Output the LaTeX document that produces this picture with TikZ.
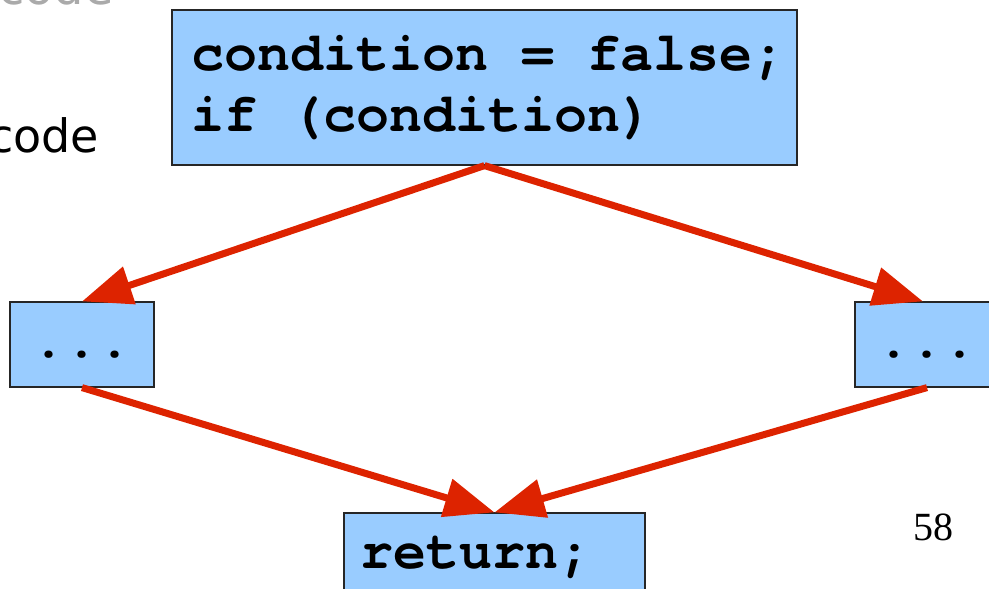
\documentclass[tikz,border=0pt]{standalone}
\usepackage{fontspec}
\newfontfamily\codefont{TeX Gyre Cursor}
\newfontfamily\slidefont{DejaVu Sans}
\newfontfamily\pagefont{Liberation Serif}
\usetikzlibrary{positioning,arrows.meta}
\definecolor{boxblue}{RGB}{153,204,255}
\definecolor{flowred}{RGB}{221,35,0}
\definecolor{titlegray}{RGB}{170,170,170}
% one fixed-pitch blank in the code text
\newcommand\gap{\hspace*{0.6em}}
\tikzstyle{block} = [draw=black!85, line width=1.2pt, rectangle, fill=boxblue,
  font=\codefont\bfseries\fontsize{55}{61}\selectfont]
\tikzstyle{small} = [block, minimum width=144pt, text height=38pt, text depth=12pt, inner ysep=17.5pt]
\tikzstyle{flow} = [draw=flowred, line width=7pt, -{Triangle[length=50pt,width=38pt]}]

\begin{document}
\begin{tikzpicture}[x=1pt,y=-1pt,node distance=257pt]
	\useasboundingbox (0,0) rectangle (989,589);
	\clip (0,0) rectangle (989,589);

	% slide text around the diagram
	\node [anchor=base west, inner sep=0, text=titlegray,
	  font=\slidefont\fontsize{48}{56}\selectfont] (title) at (-2,5) {code};
	\node [anchor=base west, inner sep=0,
	  font=\slidefont\fontsize{46}{54}\selectfont] (bullet) at (-12,152) {code};
	\node [anchor=base, inner sep=0,
	  font=\pagefont\fontsize{40}{48}\selectfont] (page) at (933,540) {58};

	% put the blocks where we want them
	\node [block, text width=600pt, align=left, inner xsep=12.5pt, minimum height=155pt]
	  (cond) at (484.5,87.5)
	  {\hspace*{7pt}condition\gap=\gap false;\\\hspace*{7pt}if\gap(condition)};
	\node [small, below of=cond, xshift=-402.5pt] (left) {...};
	\node [small, below of=cond, xshift=442.5pt] (right) {...};
	\node [small, text width=269pt, align=left, inner xsep=16pt, below of=cond,
	  node distance=468pt, xshift=10pt] (ret) {return;};

	% draw the branches
	\draw [flow] (cond.south) -- (left.north);
	\draw [flow] (cond.south) -- ([xshift=-4pt]right.north);
	\draw [flow] (left.south) -- (ret.north);
	\draw [flow] (right.south) -- (ret.north);

\end{tikzpicture}
\end{document}
